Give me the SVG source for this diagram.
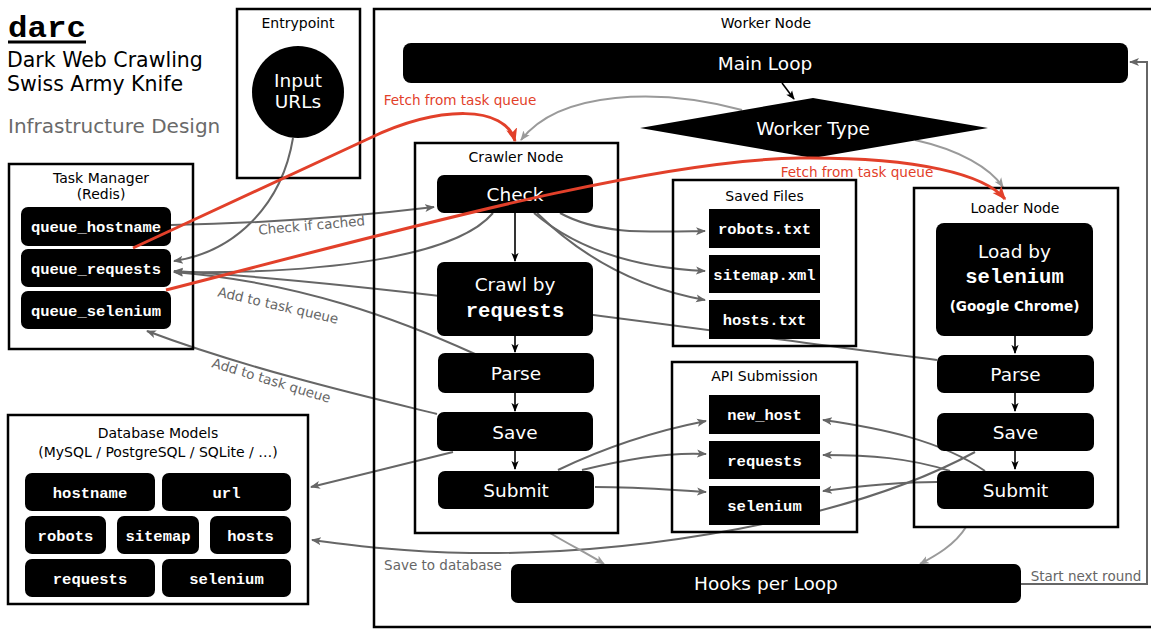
<svg xmlns="http://www.w3.org/2000/svg" width="1151" height="629" viewBox="0 0 1151 629">
  <style>
    .box { fill: none; stroke: #000; stroke-width: 2.5; }
    .blk { fill: #000; }
    .lbl { font-family: "DejaVu Sans", sans-serif; font-size: 14px; fill: #000; text-anchor: middle; }
    .nt { font-family: "DejaVu Sans", sans-serif; font-size: 18.5px; fill: #fff; text-anchor: middle; }
    .mono { font-family: "Liberation Mono", "Courier New", monospace; font-weight: bold; font-size: 15.5px; fill: #fff; text-anchor: middle; }
    .mono-lg { font-family: "Liberation Mono", "Courier New", monospace; font-weight: bold; font-size: 20.5px; fill: #fff; text-anchor: middle; }
    .edge { fill: none; stroke: #666; stroke-width: 2; marker-end: url(#ah-gray); }
    .edge-lt { fill: none; stroke: #9a9a9a; stroke-width: 2; marker-end: url(#ah-light); }
    .edge-blk { fill: none; stroke: #000; stroke-width: 1.6; marker-end: url(#ah-black); }
    .edge-red { fill: none; stroke: #e2402a; stroke-width: 3; marker-end: url(#ah-red); }
    .elbl { font-family: "DejaVu Sans", sans-serif; font-size: 13.5px; fill: #666; text-anchor: middle; }
    .rlbl { font-family: "DejaVu Sans", sans-serif; font-size: 13.6px; fill: #e2402a; text-anchor: middle; }
  </style>
  <defs>
    <marker id="ah-gray" viewBox="0 0 10 10" refX="9" refY="5" markerWidth="10" markerHeight="10" markerUnits="userSpaceOnUse" orient="auto">
      <path d="M0,1 L10,5 L0,9 L2.5,5 z" fill="#666"/>
    </marker>
    <marker id="ah-light" viewBox="0 0 10 10" refX="9" refY="5" markerWidth="10" markerHeight="10" markerUnits="userSpaceOnUse" orient="auto">
      <path d="M0,1 L10,5 L0,9 L2.5,5 z" fill="#9a9a9a"/>
    </marker>
    <marker id="ah-black" viewBox="0 0 10 10" refX="9" refY="5" markerWidth="9" markerHeight="9" markerUnits="userSpaceOnUse" orient="auto">
      <path d="M0,1 L10,5 L0,9 L2.5,5 z" fill="#000"/>
    </marker>
    <marker id="ah-red" viewBox="0 0 10 10" refX="9" refY="5" markerWidth="14" markerHeight="14" markerUnits="userSpaceOnUse" orient="auto">
      <path d="M0,1 L10,5 L0,9 L2.5,5 z" fill="#e2402a"/>
    </marker>
  </defs>

  <rect width="1151" height="629" fill="#fff"/>

  <!-- title block -->
  <g id="title">
    <text x="8" y="37" font-family="Liberation Mono, Courier New, monospace" font-weight="bold" font-size="30" textLength="78" lengthAdjust="spacingAndGlyphs">darc</text>
    <line x1="8" y1="42" x2="86" y2="42" stroke="#000" stroke-width="3"/>
    <text x="7" y="67" font-family="DejaVu Sans, sans-serif" font-size="20.5">Dark Web Crawling</text>
    <text x="7" y="91" font-family="DejaVu Sans, sans-serif" font-size="20.5">Swiss Army Knife</text>
    <text x="8" y="133" font-family="DejaVu Sans, sans-serif" font-size="20" fill="#6a6a6a">Infrastructure Design</text>
  </g>

  <!-- gray connectors (drawn beneath nodes) -->
  <g id="connectors">
    <path class="edge" d="M 293 138 C 282 205, 235 252, 174 261"/>
    <path class="edge" d="M 171 225 C 270 223, 360 216, 434 207"/>
    <path class="edge" d="M 493 213 C 455 258, 320 274, 174 272"/>
    <path class="edge" d="M 475 354 C 400 320, 300 282, 174 272"/>
    <path class="edge" d="M 937 360 C 700 330, 400 285, 174 271"/>
    <path class="edge" d="M 437 414 C 380 400, 250 370, 147 331"/>
    <path class="edge" d="M 453 452 C 400 465, 360 475, 311 487"/>
    <path class="edge" d="M 975 452 C 850 520, 640 555, 470 553 C 400 552, 350 545, 312 540"/>
    <path class="edge" d="M 560 213 C 600 235, 650 232, 705 231"/>
    <path class="edge" d="M 534 213 C 580 252, 640 268, 705 271"/>
    <path class="edge" d="M 537 213 C 590 265, 650 290, 705 300"/>
    <path class="edge" d="M 558 470 C 610 445, 660 430, 706 421"/>
    <path class="edge" d="M 582 470 C 630 458, 670 452, 706 454"/>
    <path class="edge" d="M 595 487 C 640 487, 670 490, 706 492"/>
    <path class="edge" d="M 985 471 C 940 440, 880 428, 823 420"/>
    <path class="edge" d="M 950 471 C 910 458, 870 455, 823 455"/>
    <path class="edge" d="M 937 482 C 900 482, 860 486, 823 491"/>
    <path class="edge" d="M 1021 584 L 1147 584 L 1147 62 L 1130 62"/>
    <path class="edge-lt" d="M 742 110 C 660 88, 560 90, 521 140"/>
    <path class="edge-lt" d="M 915 140 C 960 150, 990 168, 1003 187"/>
    <path class="edge-lt" d="M 550 533 C 570 545, 590 555, 604 564"/>
    <path class="edge-lt" d="M 966 527 C 955 545, 935 556, 920 564"/>
    <path class="edge-blk" d="M 782 83 L 794 99"/>
    <path class="edge-blk" d="M 515 213 L 515 261"/>
    <path class="edge-blk" d="M 515 336 L 515 352"/>
    <path class="edge-blk" d="M 515 393 L 515 411"/>
    <path class="edge-blk" d="M 515 451 L 515 469"/>
    <path class="edge-blk" d="M 1015 336 L 1015 353"/>
    <path class="edge-blk" d="M 1015 393 L 1015 411"/>
    <path class="edge-blk" d="M 1015 451 L 1015 469"/>
    <text class="elbl" transform="translate(312 230) rotate(-5)">Check if cached</text>
    <text class="elbl" transform="translate(277 310) rotate(13)">Add to task queue</text>
    <text class="elbl" transform="translate(270 385) rotate(17)">Add to task queue</text>
    <text class="elbl" x="443" y="570">Save to database</text>
    <text class="elbl" x="1086" y="581">Start next round</text>
  </g>

  <!-- Entrypoint -->
  <g id="entrypoint">
    <rect class="box" x="237" y="9" width="123" height="169"/>
    <text class="lbl" x="298" y="28">Entrypoint</text>
    <circle cx="298" cy="92" r="46" fill="#000"/>
    <text class="nt" x="298" y="87" font-size="18">Input</text>
    <text class="nt" x="298" y="108" font-size="18">URLs</text>
  </g>

  <!-- Task Manager (Redis) -->
  <g id="task-manager">
    <rect class="box" x="9" y="164" width="184" height="185"/>
    <text class="lbl" x="101" y="183">Task Manager</text>
    <text class="lbl" x="101" y="199">(Redis)</text>
    <rect class="blk" x="21" y="207" width="150" height="39" rx="7"/>
    <text class="mono" x="96" y="232">queue_hostname</text>
    <rect class="blk" x="21" y="249" width="150" height="38" rx="7"/>
    <text class="mono" x="96" y="273.5">queue_requests</text>
    <rect class="blk" x="21" y="291" width="150" height="38" rx="7"/>
    <text class="mono" x="96" y="315.5">queue_selenium</text>
  </g>

  <!-- Database Models -->
  <g id="database">
    <rect class="box" x="8" y="415" width="300" height="189"/>
    <text class="lbl" x="158" y="438">Database Models</text>
    <text class="lbl" x="158" y="457">(MySQL / PostgreSQL / SQLite / …)</text>
    <rect class="blk" x="25" y="473" width="130" height="38" rx="7"/>
    <text class="mono" x="90" y="497.5">hostname</text>
    <rect class="blk" x="162" y="473" width="129" height="38" rx="7"/>
    <text class="mono" x="226.5" y="497.5">url</text>
    <rect class="blk" x="25" y="516" width="81" height="38" rx="7"/>
    <text class="mono" x="65.5" y="540.5">robots</text>
    <rect class="blk" x="117" y="516" width="82" height="38" rx="7"/>
    <text class="mono" x="158" y="540.5">sitemap</text>
    <rect class="blk" x="210" y="516" width="81" height="38" rx="7"/>
    <text class="mono" x="250.5" y="540.5">hosts</text>
    <rect class="blk" x="25" y="559" width="130" height="38" rx="7"/>
    <text class="mono" x="90" y="583.5">requests</text>
    <rect class="blk" x="162" y="559" width="129" height="38" rx="7"/>
    <text class="mono" x="226.5" y="583.5">selenium</text>
  </g>

  <!-- Worker Node container -->
  <g id="worker-node">
    <rect class="box" x="374" y="9" width="790" height="618"/>
    <text class="lbl" x="766" y="28">Worker Node</text>
  </g>

  <g id="main-loop">
    <rect class="blk" x="403" y="43" width="725" height="40" rx="8"/>
    <text class="nt" x="765" y="70">Main Loop</text>
  </g>

  <g id="worker-type">
    <polygon class="blk" points="640,128 813,98 988,128 813,158"/>
    <text class="nt" x="813" y="134.5">Worker Type</text>
  </g>

  <!-- Crawler Node -->
  <g id="crawler-node">
    <rect class="box" x="415" y="143" width="203" height="390"/>
    <text class="lbl" x="516" y="162">Crawler Node</text>
    <rect class="blk" x="437" y="175" width="156" height="38" rx="7"/>
    <text class="nt" x="515" y="200.5">Check</text>
    <rect class="blk" x="437" y="262" width="156" height="74" rx="7"/>
    <text class="nt" x="515" y="291">Crawl by</text>
    <text class="mono-lg" x="515" y="316.5">requests</text>
    <rect class="blk" x="438" y="353" width="156" height="40" rx="7"/>
    <text class="nt" x="516" y="379.5">Parse</text>
    <rect class="blk" x="437" y="412" width="156" height="39" rx="7"/>
    <text class="nt" x="515" y="438.5">Save</text>
    <rect class="blk" x="438" y="471" width="156" height="38" rx="7"/>
    <text class="nt" x="516" y="496.5">Submit</text>
  </g>

  <!-- Saved Files -->
  <g id="saved-files">
    <rect class="box" x="673" y="180" width="183" height="166"/>
    <text class="lbl" x="764.5" y="201">Saved Files</text>
    <rect class="blk" x="709" y="209" width="111" height="39"/>
    <text class="mono" x="764.5" y="234">robots.txt</text>
    <rect class="blk" x="709" y="255" width="111" height="38"/>
    <text class="mono" x="764.5" y="279.5">sitemap.xml</text>
    <rect class="blk" x="709" y="300" width="111" height="39"/>
    <text class="mono" x="764.5" y="325">hosts.txt</text>
  </g>

  <!-- API Submission -->
  <g id="api-submission">
    <rect class="box" x="672" y="362" width="185" height="170"/>
    <text class="lbl" x="764.5" y="381">API Submission</text>
    <rect class="blk" x="709" y="395" width="111" height="39"/>
    <text class="mono" x="764.5" y="420">new_host</text>
    <rect class="blk" x="709" y="441" width="111" height="38"/>
    <text class="mono" x="764.5" y="465.5">requests</text>
    <rect class="blk" x="709" y="486" width="111" height="39"/>
    <text class="mono" x="764.5" y="511">selenium</text>
  </g>

  <!-- Loader Node -->
  <g id="loader-node">
    <rect class="box" x="914" y="188" width="204" height="339"/>
    <text class="lbl" x="1015" y="213">Loader Node</text>
    <rect class="blk" x="936" y="223" width="157" height="113" rx="8"/>
    <text class="nt" x="1014.5" y="258">Load by</text>
    <text class="mono-lg" x="1014.5" y="282.5">selenium</text>
    <text x="1014.5" y="311" font-family="DejaVu Sans, sans-serif" font-weight="bold" font-size="13.6" fill="#fff" text-anchor="middle">(Google Chrome)</text>
    <rect class="blk" x="937" y="355" width="157" height="38" rx="7"/>
    <text class="nt" x="1015.5" y="380.5">Parse</text>
    <rect class="blk" x="937" y="413" width="157" height="38" rx="7"/>
    <text class="nt" x="1015.5" y="438.5">Save</text>
    <rect class="blk" x="937" y="471" width="157" height="38" rx="7"/>
    <text class="nt" x="1015.5" y="496.5">Submit</text>
  </g>

  <!-- Hooks per Loop -->
  <g id="hooks">
    <rect class="blk" x="511" y="564" width="510" height="39" rx="7"/>
    <text class="nt" x="766" y="590">Hooks per Loop</text>
  </g>

  <!-- task fetch connectors (drawn on top) -->
  <g id="fetch-connectors">
    <path class="edge-red" d="M 133 248 L 370 138 C 440 105, 505 105, 515 141"/>
    <path class="edge-red" d="M 166 290 C 400 230, 650 160, 800 158 C 920 157, 985 175, 1005 199"/>
    <text class="rlbl" x="460" y="105">Fetch from task queue</text>
    <text class="rlbl" x="857" y="177">Fetch from task queue</text>
  </g>
</svg>
